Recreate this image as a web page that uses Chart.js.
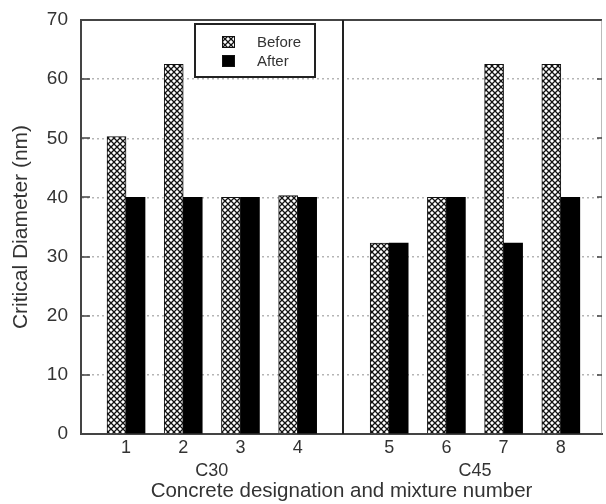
<!DOCTYPE html>
<html>
<head>
<meta charset="utf-8">
<script src="https://cdn.jsdelivr.net/npm/chart.js@4/dist/chart.umd.min.js"></script>
<style>
  html, body { margin: 0; padding: 0; background: #fff; }
  #wrap { width: 606px; height: 504px; }
</style>
</head>
<body>
<div id="wrap"><canvas id="c" width="606" height="504"></canvas></div>
<script>
// Mixture numbers and the concrete grade each belongs to
const mixtures = ['1', '2', '3', '4', '5', '6', '7', '8'];
const grades = ['C30', 'C30', 'C30', 'C30', 'C45', 'C45', 'C45', 'C45'];

// Critical pore diameter (nm)
const beforeValues = [50.3, 62.5, 40, 40.3, 32.3, 40, 62.5, 62.5];
const afterValues = [40, 40, 40, 40, 32.3, 40, 32.3, 40];

const seriesNames = ['Before', 'After'];
const yTickValues = [0, 10, 20, 30, 40, 50, 60, 70];

// Extra horizontal space inserted between the two grade groups
const GROUP_GAP = 0.6;
const X_MIN = 0.213;
const X_MAX = 9.32;

const positions = mixtures.map((m, i) => Number(m) + (grades[i] === 'C45' ? GROUP_GAP : 0));
const gradeNames = [...new Set(grades)];
const gradeCenters = gradeNames.map(g => {
  const p = positions.filter((_, i) => grades[i] === g);
  return (Math.min(...p) + Math.max(...p)) / 2;
});
const lastC30 = Math.max(...positions.filter((_, i) => grades[i] === gradeNames[0]));
const firstC45 = Math.min(...positions.filter((_, i) => grades[i] === gradeNames[1]));
const separatorAt = (lastC30 + firstC45) / 2;

// Cross-hatch fill for the "Before" bars
function makeHatch() {
  const t = document.createElement('canvas');
  t.width = 6; t.height = 6;
  const g = t.getContext('2d');
  g.fillStyle = '#fff';
  g.fillRect(0, 0, 6, 6);
  g.strokeStyle = '#111';
  g.lineWidth = 1.3;
  g.beginPath();
  g.moveTo(-1, -1); g.lineTo(7, 7);
  g.moveTo(7, -1); g.lineTo(-1, 7);
  g.stroke();
  return g.createPattern(t, 'repeat');
}
const hatch = makeHatch();

const TEXT = '#333';
const FONT = "'Liberation Sans', Arial, sans-serif";

// Frame, inward tick marks, group separator and legend box
const framePlugin = {
  id: 'frame',
  afterDraw(chart) {
    const { ctx, chartArea: a, scales } = chart;
    const y = scales.y, x = scales.x;
    ctx.save();
    // top border
    ctx.strokeStyle = '#444';
    ctx.lineWidth = 2;
    ctx.beginPath();
    ctx.moveTo(a.left, a.top); ctx.lineTo(a.right, a.top);
    ctx.stroke();
    // right border
    ctx.strokeStyle = '#bbb';
    ctx.lineWidth = 1;
    ctx.beginPath();
    ctx.moveTo(a.right - 0.5, a.top); ctx.lineTo(a.right - 0.5, a.bottom);
    ctx.stroke();
    // inward ticks
    ctx.strokeStyle = '#444';
    ctx.lineWidth = 1.5;
    yTickValues.forEach(v => {
      const py = Math.round(y.getPixelForValue(v));
      ctx.beginPath();
      ctx.moveTo(a.left, py); ctx.lineTo(a.left + 9, py);
      ctx.moveTo(a.right - 5, py); ctx.lineTo(a.right, py);
      ctx.stroke();
    });
    // separator between grades
    const sx = Math.round(x.getPixelForValue(separatorAt));
    ctx.strokeStyle = '#222';
    ctx.lineWidth = 2;
    ctx.beginPath();
    ctx.moveTo(sx, a.top); ctx.lineTo(sx, a.bottom);
    ctx.stroke();

    // legend
    const lx = 195, ly = 24, lw = 120, lh = 53;
    ctx.fillStyle = '#fff';
    ctx.fillRect(lx, ly, lw, lh);
    ctx.strokeStyle = '#222';
    ctx.lineWidth = 2;
    ctx.strokeRect(lx, ly, lw, lh);
    const ds = chart.data.datasets;
    const rows = [ly + 18, ly + 37];
    ds.forEach((d, i) => {
      const cy = rows[i];
      ctx.fillStyle = d.backgroundColor;
      ctx.fillRect(222, cy - 6, 13, 12);
      ctx.strokeStyle = '#111';
      ctx.lineWidth = 1;
      ctx.strokeRect(222.5, cy - 5.5, 12, 11);
      ctx.fillStyle = TEXT;
      ctx.font = '15px ' + FONT;
      ctx.textBaseline = 'middle';
      ctx.textAlign = 'left';
      ctx.fillText(d.label, 257, cy + 1);
    });
    ctx.restore();
  }
};

new Chart(document.getElementById('c'), {
  type: 'bar',
  data: {
    datasets: [
      {
        label: seriesNames[0],
        data: positions.map((p, i) => ({ x: p, y: beforeValues[i] })),
        backgroundColor: hatch,
        borderColor: '#111',
        borderWidth: 1,
        barThickness: 19
      },
      {
        label: seriesNames[1],
        data: positions.map((p, i) => ({ x: p, y: afterValues[i] })),
        backgroundColor: '#000',
        borderColor: '#000',
        borderWidth: 0,
        barThickness: 19
      }
    ]
  },
  options: {
    responsive: false,
    animation: false,
    layout: { padding: { top: 20, right: 4, left: 0, bottom: 0 } },
    plugins: { legend: { display: false }, tooltip: { enabled: false } },
    scales: {
      x: {
        type: 'linear',
        position: 'bottom',
        weight: 0,
        offset: false,
        min: X_MIN,
        max: X_MAX,
        grid: { display: false, drawTicks: false, offset: false },
        border: { display: true, color: '#444', width: 2 },
        afterBuildTicks: s => { s.ticks = positions.map(v => ({ value: v })); },
        afterFit: s => { s.height = 24; s.paddingLeft = 0; s.paddingRight = 0; },
        ticks: {
          autoSkip: false,
          maxRotation: 0,
          padding: 3,
          color: TEXT,
          font: { family: FONT, size: 18 },
          callback: (v, i) => mixtures[i]
        }
      },
      x2: {
        type: 'linear',
        position: 'bottom',
        weight: 1,
        offset: false,
        min: X_MIN,
        max: X_MAX,
        grid: { display: false, drawTicks: false, offset: false },
        border: { display: false },
        afterBuildTicks: s => { s.ticks = gradeCenters.map(v => ({ value: v })); },
        afterFit: s => { s.height = 46; s.paddingLeft = 0; s.paddingRight = 0; },
        ticks: {
          autoSkip: false,
          maxRotation: 0,
          padding: 2,
          color: TEXT,
          font: { family: FONT, size: 18 },
          callback: (v, i) => gradeNames[i]
        },
        title: {
          display: true,
          text: 'Concrete designation and mixture number',
          color: TEXT,
          font: { family: FONT, size: 20.5 },
          padding: { top: 0, bottom: 0 }
        }
      },
      y: {
        min: 0,
        max: 70,
        afterBuildTicks: s => { s.ticks = yTickValues.map(v => ({ value: v })); },
        afterFit: s => { s.width = 81; s.paddingTop = 0; s.paddingBottom = 0; },
        grid: {
          drawTicks: false,
          color: c => (c.tick && (c.tick.value === 0 || c.tick.value === 70)) ? 'rgba(0,0,0,0)' : '#b5b5b5',
          lineWidth: 1.5
        },
        border: { display: true, color: '#444', width: 2, dash: [2, 3] },
        ticks: {
          padding: 13,
          color: TEXT,
          font: { family: FONT, size: 19 }
        },
        title: {
          display: true,
          text: 'Critical Diameter (nm)',
          color: TEXT,
          font: { family: FONT, size: 21 },
          padding: { top: 9, bottom: 0 }
        }
      }
    }
  },
  plugins: [framePlugin]
});
</script>
</body>
</html>
